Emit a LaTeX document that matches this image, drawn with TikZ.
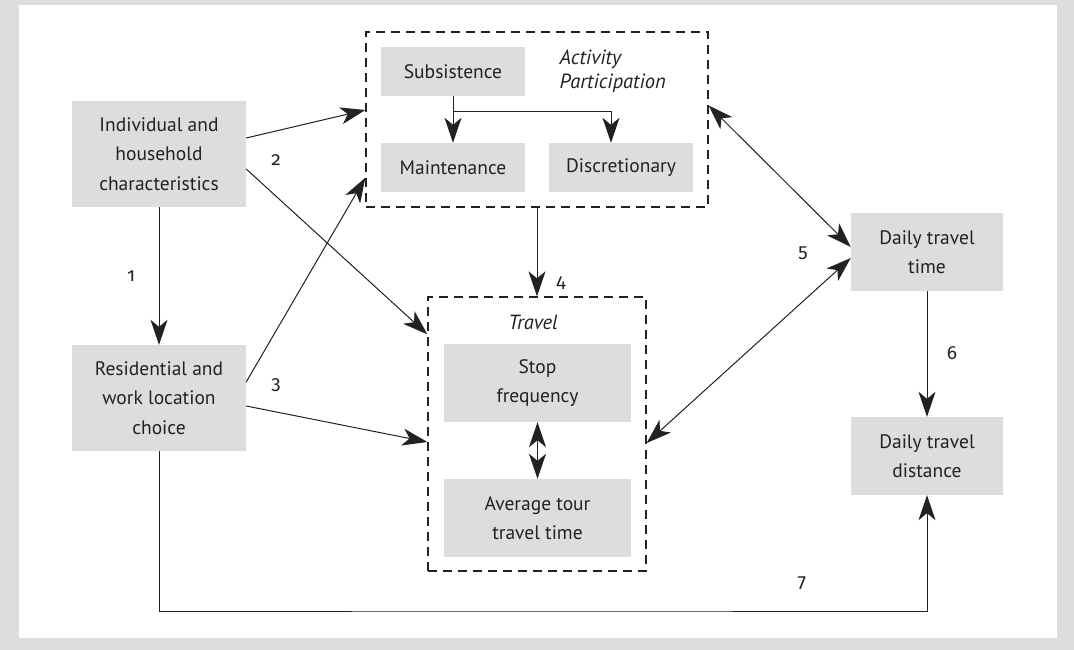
\documentclass[tikz,border=0pt]{standalone}
\usepackage{fontspec}
\setmainfont{PT Sans}
\newfontfamily\numfont[Numbers=OldStyle]{Fira Sans}
\usetikzlibrary{arrows.meta,positioning}
\definecolor{panelgray}{HTML}{DCDDDF}
\definecolor{inkgray}{HTML}{222222}

\begin{document}
\begin{tikzpicture}[x=1pt,y=-1pt,
		font=\fontsize{19.5}{29.5}\selectfont,
		box/.style={fill=panelgray,inner sep=0pt,align=center,text=inkgray},
		group/.style={draw=inkgray,line width=1.3pt,dash pattern=on 9pt off 6pt,inner sep=0pt},
		arr/.style={draw=inkgray,line width=1pt,-{Stealth[length=25pt,width=17pt,inset=7pt]}},
		dblarr/.style={arr,{Stealth[length=25pt,width=17pt,inset=7pt]}-{Stealth[length=25pt,width=17pt,inset=7pt]}},
		num/.style={text=inkgray,font=\fontsize{19}{20}\numfont}]
		% frame
		\fill[panelgray] (0,0) rectangle (1074,650);
		\fill[white] (19,5) rectangle (1057,638);

		% left column
		\node[box,minimum width=174pt,minimum height=106pt] (indiv) at (159,154) {Individual and\\household\\characteristics};
		\node[box,minimum width=174pt,minimum height=106pt] (resid) at (159,398) {Residential and\\work location\\choice};

		% activity participation
		\node[group,minimum width=342pt,minimum height=175pt] (actgrp) at (537,119.5) {};
		\node[box,minimum width=144pt,minimum height=49pt] (subsist) at (453,71.5) {Subsistence};
		\node[box,minimum width=144pt,minimum height=49pt] (maint) at (453,167.5) {Maintenance};
		\node[box,minimum width=144pt,minimum height=49pt] (discr) at (621,167.5) {Discretionary};
		\node[anchor=west,align=left,text=inkgray,font=\fontsize{20.5}{24}\selectfont\itshape] (actlbl) at (556,71) {Activity\\Participation};

		% travel
		\node[group,minimum width=218pt,minimum height=274pt] (travgrp) at (537,434) {};
		\node[text=inkgray,font=\fontsize{20.5}{24}\selectfont\itshape] (travlbl) at (533,322) {Travel};
		\node[box,minimum width=187pt,minimum height=78pt] (stopf) at (537.5,383) {Stop\\frequency};
		\node[box,minimum width=187pt,minimum height=78pt] (avgtour) at (537.5,518) {Average tour\\travel time};

		% right column
		\node[box,minimum width=152pt,minimum height=78pt] (dtime) at (927,252) {Daily travel\\time};
		\node[box,minimum width=152pt,minimum height=78pt] (ddist) at (927,456) {Daily travel\\distance};

		\coordinate (split) at (453,112);
		\coordinate (bottom) at (540,611);

		\draw[arr] (subsist.south) -- (maint.north);
		\draw[arr] (split) -| ([xshift=-10pt]discr.north);
		\draw[dblarr] (stopf.south) -- (avgtour.north);

		\draw[arr] (indiv.south) -- (resid.north) node[num,midway,left=20pt] (n1) {1};
		\draw[arr] ([yshift=16pt]indiv.east) -- ([yshift=9.5pt]actgrp.west);
		\draw[arr] ([yshift=-15pt]indiv.east) -- ([yshift=-38pt]travgrp.north west);
		\node[num] (n2) at (276,160) {2};
		\draw[arr] ([yshift=16pt]resid.east) -- ([yshift=30pt]actgrp.south west);
		\draw[arr] ([yshift=-8pt]resid.east) -- ([yshift=-8pt]travgrp.west);
		\node[num] (n3) at (276,385) {3};
		\draw[arr] (actgrp.south) -- (travgrp.north);
		\node[num] (n4) at (561,283) {4};
		\draw[dblarr] ([yshift=14pt]actgrp.east) -- ([yshift=5pt]dtime.west);
		\draw[dblarr] ([yshift=-9pt]travgrp.east) -- ([yshift=-6pt]dtime.west);
		\node[num] (n5) at (803,253) {5};
		\draw[arr] (dtime.south) -- (ddist.north);
		\node[num] (n6) at (952,353) {6};
		\draw[arr] (resid.south) |- (bottom) -| (ddist.south);
		\node[num] (n7) at (802,583) {7};
	\end{tikzpicture}
\end{document}
